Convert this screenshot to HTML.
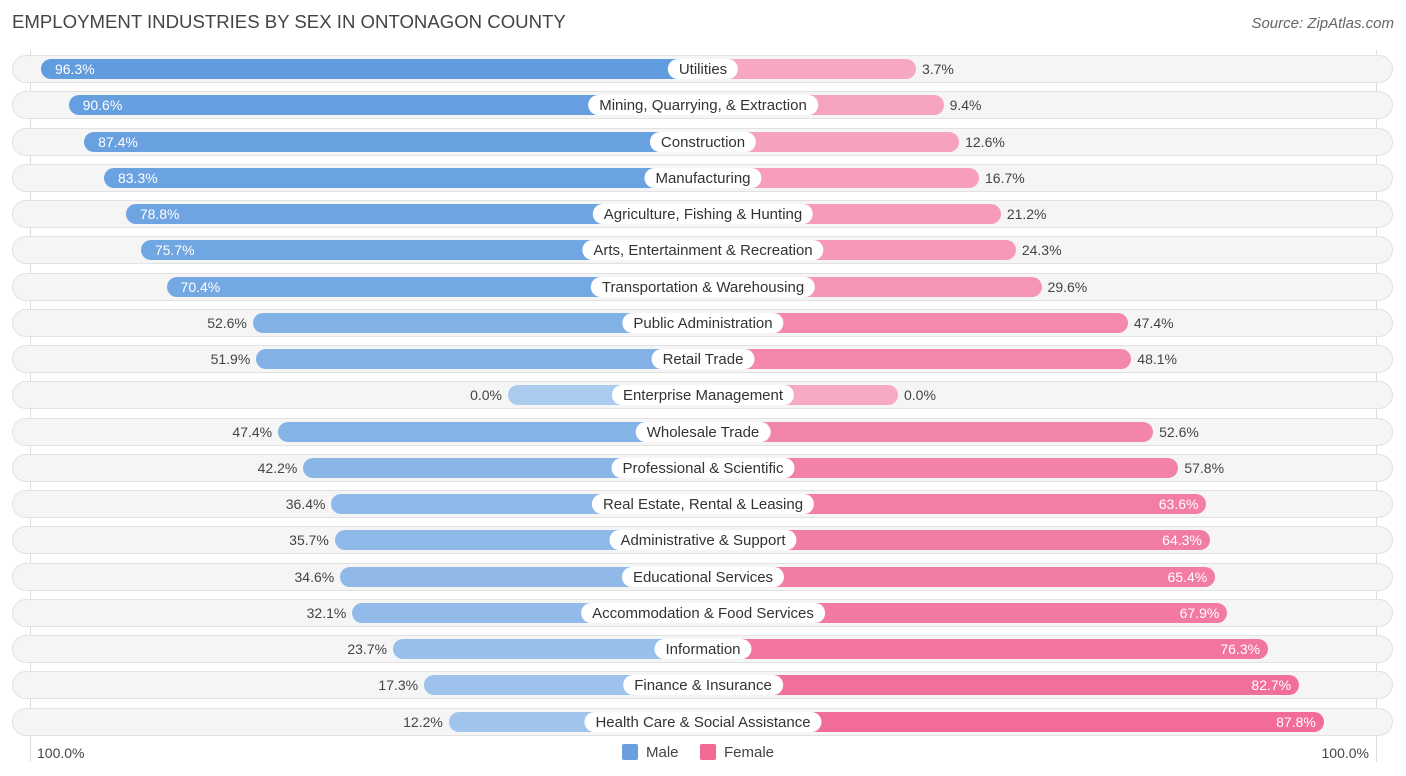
<!DOCTYPE html>
<html><head><meta charset="utf-8"><style>
body{margin:0;background:#fff;font-family:"Liberation Sans",sans-serif;}
#c{position:relative;width:1406px;height:776px;overflow:hidden;}
.t{position:absolute;white-space:nowrap;}
</style></head><body>
<div id="c">
<div class="t" style="left:12px;top:11px;font-size:18.6px;color:#444;">EMPLOYMENT INDUSTRIES BY SEX IN ONTONAGON COUNTY</div>
<div class="t" style="right:12px;top:15px;font-size:15px;color:#666;font-style:italic;">Source: ZipAtlas.com</div>
<div style="position:absolute;left:30px;top:50px;width:1px;height:712px;background:#ddd"></div>
<div style="position:absolute;left:1376px;top:50px;width:1px;height:712px;background:#ddd"></div>
<div id="rows"></div>
<div class="t" style="left:37px;top:745px;font-size:14px;color:#444;">100.0%</div>
<div class="t" style="right:37px;top:745px;font-size:14px;color:#444;">100.0%</div>
<div class="t" style="left:622px;top:744px;font-size:15px;color:#444;"><span style="display:inline-block;width:16px;height:16px;background:#6a9fdf;border-radius:2px;vertical-align:-3px;margin-right:8px"></span>Male</div>
<div class="t" style="left:700px;top:744px;font-size:15px;color:#444;"><span style="display:inline-block;width:16px;height:16px;background:#f06a94;border-radius:2px;vertical-align:-3px;margin-right:8px"></span>Female</div>
</div>
<script>
const categories=["Utilities","Mining, Quarrying, & Extraction","Construction","Manufacturing","Agriculture, Fishing & Hunting","Arts, Entertainment & Recreation","Transportation & Warehousing","Public Administration","Retail Trade","Enterprise Management","Wholesale Trade","Professional & Scientific","Real Estate, Rental & Leasing","Administrative & Support","Educational Services","Accommodation & Food Services","Information","Finance & Insurance","Health Care & Social Assistance"];
const maleValues=[96.3,90.6,87.4,83.3,78.8,75.7,70.4,52.6,51.9,0.0,47.4,42.2,36.4,35.7,34.6,32.1,23.7,17.3,12.2];
const femaleValues=[3.7,9.4,12.6,16.7,21.2,24.3,29.6,47.4,48.1,0.0,52.6,57.8,63.6,64.3,65.4,67.9,76.3,82.7,87.8];
const cx=703,base=195,k=4.85,y0=69,dy=36.25;
function len(v){return base+v*k;}
function mix(a,b,t){return 'rgb('+a.map((x,i)=>Math.round(x+(b[i]-x)*t)).join(',')+')';}
const rows=document.getElementById('rows');
categories.forEach((cat,i)=>{
  const y=y0+i*dy;const m=maleValues[i],f=femaleValues[i];
  const bg=document.createElement('div');
  
  
  bg.style.cssText=`position:absolute;left:12px;top:${y-14}px;width:1381px;height:28px;border-radius:14px;background:#f5f5f5;box-shadow:inset 0 0 0 1px #e2e2e2;`;
  rows.appendChild(bg);
  const ml=len(m);
  const mb=document.createElement('div');
  
  
  mb.style.cssText=`position:absolute;left:${cx-ml}px;top:${y-10}px;width:${ml}px;height:20px;border-radius:10px 0 0 10px;background:${mix([170,202,238],[94,154,222],m/100)};`;
  rows.appendChild(mb);
  const fl=len(f);
  const fb=document.createElement('div');
  
  
  fb.style.cssText=`position:absolute;left:${cx}px;top:${y-10}px;width:${fl}px;height:20px;border-radius:0 10px 10px 0;background:${mix([247,170,195],[240,100,145],f/100)};`;
  rows.appendChild(fb);
  const lab=document.createElement('div');
  
  
  lab.className='t';
  lab.textContent=cat;
  lab.style.cssText=`position:absolute;left:${cx}px;top:${y-10}px;transform:translateX(-50%);height:20px;line-height:21px;padding:0 11px;border-radius:10px;background:#fff;font-size:15px;color:#333;white-space:nowrap;`;
  rows.appendChild(lab);
  const mv=document.createElement('div');
  
  
  mv.className='t';mv.textContent=m.toFixed(1)+'%';
  if(m>=65){mv.style.cssText=`left:${cx-ml+14}px;top:${y-8}px;font-size:14px;color:#fff;`;}
  else{mv.style.cssText=`right:${1406-(cx-ml)+6}px;top:${y-8}px;font-size:14px;color:#444;`;}
  rows.appendChild(mv);
  const fv=document.createElement('div');
  
  
  fv.className='t';fv.textContent=f.toFixed(1)+'%';
  if(f>=60){fv.style.cssText=`right:${1406-(cx+fl)+8}px;top:${y-8}px;font-size:14px;color:#fff;`;}
  else{fv.style.cssText=`left:${cx+fl+6}px;top:${y-8}px;font-size:14px;color:#444;`;}
  rows.appendChild(fv);
});
</script>
</body></html>
